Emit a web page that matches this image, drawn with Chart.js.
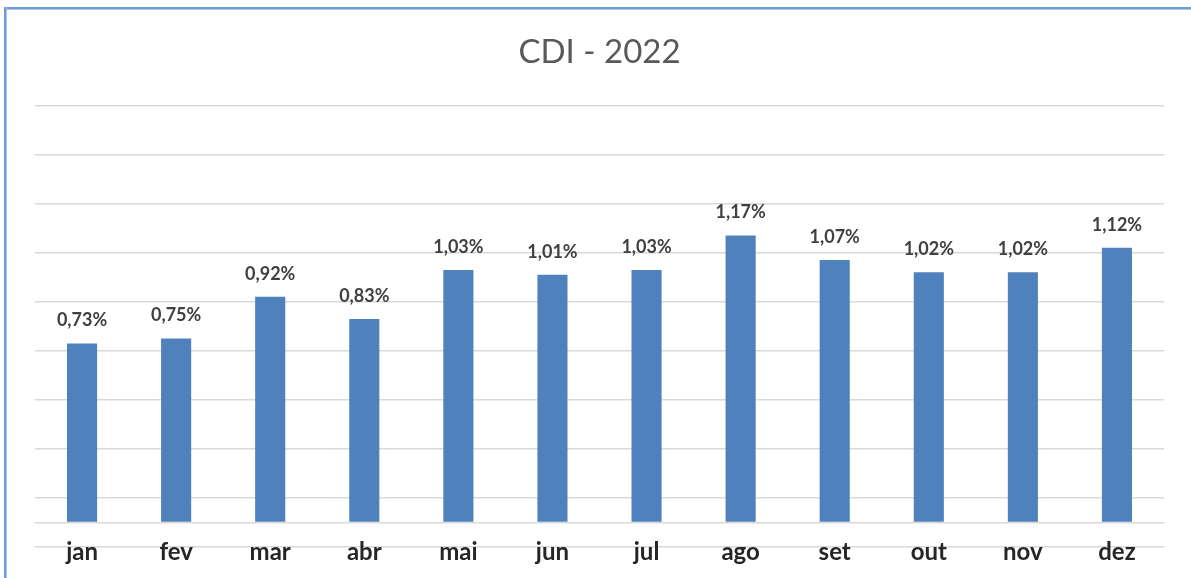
<!DOCTYPE html>
<html>
<head>
<meta charset="utf-8">
<script src="https://cdn.jsdelivr.net/npm/chart.js@4"></script>
<style>
  html, body { margin: 0; padding: 0; background: #fff; }
  #wrap { position: relative; width: 1191px; height: 578px; }
  #borderTop { position: absolute; left: 4px; top: 7px; width: 1187px; height: 2px; background: #6e9bd6; border-bottom: 1px solid #aac5ea; }
  #borderLeft { position: absolute; left: 4px; top: 7px; width: 2px; height: 571px; background: #6e9bd6; border-right: 1px solid #aac5ea; }
</style>
</head>
<body>
<div id="wrap">
  <canvas id="cdiChart" width="1191" height="578"></canvas>
  <div id="borderTop"></div>
  <div id="borderLeft"></div>
</div>
<script>
// CDI mensal 2022
const meses = ['jan', 'fev', 'mar', 'abr', 'mai', 'jun', 'jul', 'ago', 'set', 'out', 'nov', 'dez'];
const cdi = [0.73, 0.75, 0.92, 0.83, 1.03, 1.01, 1.03, 1.17, 1.07, 1.02, 1.02, 1.12];
const linhasGrade = [-0.1, 0, 0.1, 0.3, 0.5, 0.7, 0.9, 1.1, 1.3, 1.5, 1.7];

// rótulos de dados em cima das barras + nomes dos meses sobre a última linha de grade
const rotulos = {
  id: 'rotulos',
  afterDatasetsDraw(chart) {
    const c = chart.ctx;
    const meta = chart.getDatasetMeta(0);
    const xs = chart.scales.x;
    c.save();
    c.textAlign = 'center';
    c.font = 'bold 18px Lato';
    c.fillStyle = '#404040';
    c.textBaseline = 'middle';
    meta.data.forEach((bar, i) => {
      const txt = cdi[i].toFixed(2).replace('.', ',') + '%';
      c.fillText(txt, bar.x, bar.y - 23);
    });
    c.font = 'bold 24px Lato';
    c.fillStyle = '#262626';
    c.textBaseline = 'alphabetic';
    meses.forEach((m, i) => {
      c.fillText(m, xs.getPixelForValue(i), chart.chartArea.bottom + 13);
    });
    c.restore();
  }
};

const ctx = document.getElementById('cdiChart').getContext('2d');
new Chart(ctx, {
  type: 'bar',
  data: {
    labels: meses,
    datasets: [{
      label: 'CDI',
      data: cdi,
      backgroundColor: '#4f81bd',
      barPercentage: 0.32,
      categoryPercentage: 1
    }]
  },
  options: {
    responsive: false,
    animation: false,
    layout: { padding: { left: 35, right: 27, top: 0, bottom: 31 } },
    scales: {
      x: {
        grid: { display: false, drawTicks: false },
        border: { display: false },
        ticks: { display: false }
      },
      y: {
        min: -0.1,
        max: 1.7,
        afterBuildTicks: (scale) => {
          scale.ticks = linhasGrade.map(v => ({ value: v }));
        },
        grid: { color: '#d9d9d9', lineWidth: 1.5, drawTicks: false },
        border: { display: false },
        ticks: { display: false }
      }
    },
    plugins: {
      legend: { display: false },
      tooltip: { enabled: false },
      title: {
        display: true,
        text: 'CDI - 2022',
        color: '#595959',
        font: { family: 'Lato', size: 33, weight: 'normal' },
        padding: { top: 33, bottom: 33 }
      }
    }
  },
  plugins: [rotulos]
});
</script>
</body>
</html>
